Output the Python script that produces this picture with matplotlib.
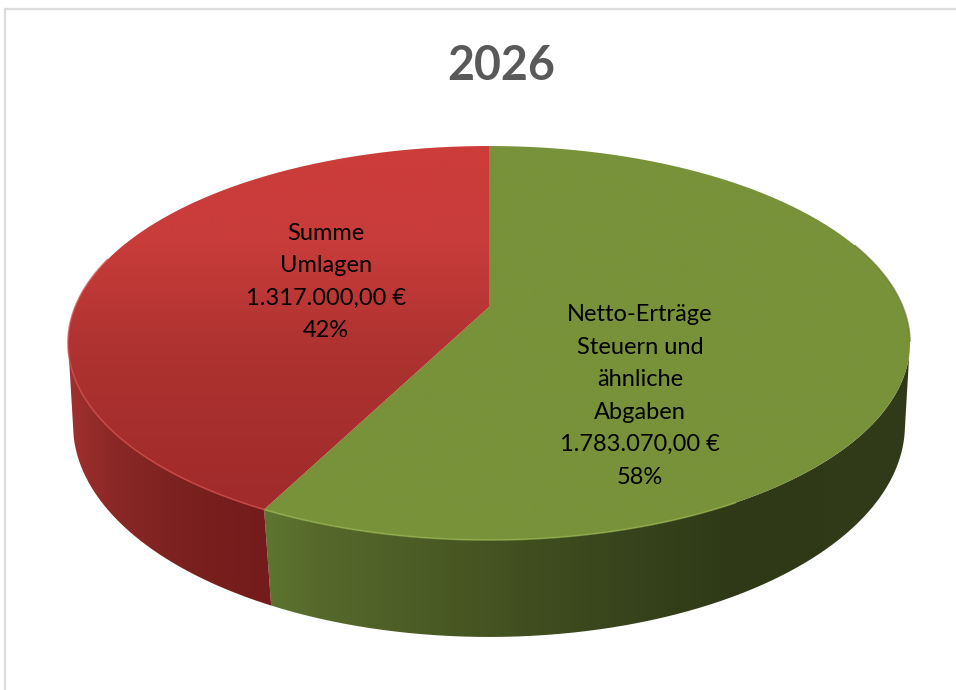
import matplotlib

matplotlib.use("Agg")

import matplotlib.pyplot as plt
import numpy as np
from matplotlib.colors import LinearSegmentedColormap
from matplotlib.patches import PathPatch
from matplotlib.path import Path

title = "2026"
categories = ["Netto-Erträge\nSteuern und\nähnliche\nAbgaben", "Summe\nUmlagen"]
values = [1783070.00, 1317000.00]
percent_labels = ["58%", "42%"]
amount_labels = ["1.783.070,00 €", "1.317.000,00 €"]

# projected disc, fitted by eye to the reference (pixel coords)
TOP = dict(cx=489.0, cy=307.0, a=413.9, b=190.4, k=0.1827)
BOTTOM = dict(cx=489.0, cy=391.0, a=410.6, b=206.6, k=0.16)


def project(deg, p):
    t = np.radians(deg)
    u, v = np.sin(t), -np.cos(t)
    w = 1 - p["k"] * v
    return p["cx"] + p["a"] * u / w, p["cy"] + p["b"] * v / w


def arc(d0, d1, p):
    return project(np.linspace(d0, d1, 400), p)


def gradient_fill(ax, xs, ys, colors, stops, horizontal, zorder):
    cmap = LinearSegmentedColormap.from_list("g", list(zip(stops, colors)))
    ramp = np.linspace(0, 1, 512)
    ramp = ramp.reshape(1, -1) if horizontal else ramp.reshape(-1, 1)
    im = ax.imshow(ramp, cmap=cmap, vmin=0, vmax=1, aspect="auto", zorder=zorder,
                   extent=(60, 920, 650, 140), origin="upper", interpolation="bilinear")
    verts = np.column_stack([np.r_[xs, xs[0]], np.r_[ys, ys[0]]])
    patch = PathPatch(Path(verts), transform=ax.transData, fc="none", ec="none")
    ax.add_patch(patch)
    im.set_clip_path(patch)


def side_wall(ax, d0, d1, colors, stops, zorder):
    x0, y0 = arc(d0, d1, TOP)
    x1, y1 = arc(d0, d1, BOTTOM)
    gradient_fill(ax, np.r_[x0, x1[::-1]], np.r_[y0, y1[::-1]], colors, stops, True, zorder)


fig = plt.figure(figsize=(9.56, 6.9), dpi=100, facecolor="white")
ax = fig.add_axes([0, 0, 1, 1])
ax.set_xlim(0, 956)
ax.set_ylim(690, 0)
ax.axis("off")

fractions = np.array(values) / sum(values)
split = 360 * fractions[0]

# angle where each rim reaches its widest point, wall only needed in front of that
xs = arc(0, 360, TOP)[0]
angles = np.linspace(0, 360, 400)
right_deg = angles[np.argmax(xs)]
left_deg = angles[np.argmin(xs)]

# side walls, gradients run left to right over x 60..920
side_wall(ax, right_deg, split,
          ["#5d7530", "#5d7530", "#56692b", "#3f4d1f", "#2f3918", "#313b1a"],
          [0.0, 0.24, 0.3, 0.56, 0.78, 1.0], 1)
side_wall(ax, split, left_deg,
          ["#a33231", "#8b2826", "#7b2120", "#731c1b", "#731c1b"],
          [0.0, 0.06, 0.14, 0.24, 1.0], 2)

# top faces
cx, cy = TOP["cx"], TOP["cy"]
x, y = arc(0, split, TOP)
gradient_fill(ax, np.r_[cx, x], np.r_[cy, y], ["#78923a", "#78923a"], [0, 1], False, 3)
x, y = arc(split, 360, TOP)
gradient_fill(ax, np.r_[cx, x], np.r_[cy, y],
              ["#cc3c3a", "#c83c3a", "#ad3230", "#a02b2a", "#a02b2a"],
              [0.0, 0.2, 0.42, 0.72, 1.0], False, 4)

# bevel highlight on the front edge
x, y = arc(150, split, TOP)
ax.plot(x, y, color="#93b04c", lw=1.3, alpha=0.7, zorder=5)
x, y = arc(split, 285, TOP)
ax.plot(x, y, color="#cf4a47", lw=1.3, alpha=0.7, zorder=5)
x, y = arc(70, 100, TOP)
ax.plot(x, y, color="#667d33", lw=1.2, alpha=0.7, zorder=5)

# chart frame, no right edge in the crop
ax.plot([5, 5], [690, 9], color="#dcdcdc", lw=1.6, zorder=6)
ax.plot([5, 956], [9, 9], color="#dcdcdc", lw=1.6, zorder=6)

ax.text(501, 66, title, ha="center", va="center", family="Lato", fontsize=33.5, fontweight="bold",
        color="#595959", zorder=7)

# data labels
label_pos = [(640, 396), (326, 282)]
for cat, amount, pct, (lx, ly) in zip(categories, amount_labels, percent_labels, label_pos):
    ax.text(lx, ly, f"{cat}\n{amount}\n{pct}", ha="center", va="center", family="Lato", fontsize=17,
            color="black", linespacing=1.68, zorder=7)

fig.savefig("out.png", dpi=100)
plt.close(fig)
